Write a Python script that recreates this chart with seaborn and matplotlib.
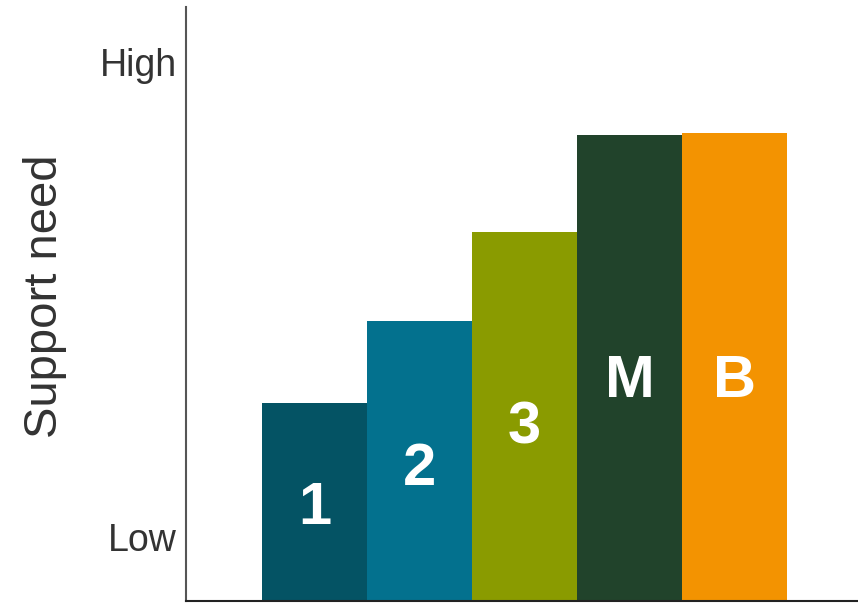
import matplotlib
matplotlib.use("Agg")
import matplotlib.pyplot as plt
import seaborn as sns
import pandas as pd

categories = ["1", "2", "3", "M", "B"]
values = [3.33, 4.71, 6.21, 7.85, 7.88]
colors = ["#045364", "#03718E", "#8A9B00", "#21432B", "#F39301"]
tick_values = [1.08, 9.08]
tick_labels = ["Low", "High"]
ylabel = "Support need"

sns.set_theme(style="white")
plt.rcParams['font.family'] = ['Liberation Sans', 'DejaVu Sans']

df = pd.DataFrame({"cat": categories, "val": values})

fig = plt.figure(figsize=(8.58, 6.03), dpi=100)
ax = fig.add_axes([186/858, 2/603, 1 - 186/858, 594/603])
sns.barplot(data=df, x="cat", y="val", hue="cat", palette=colors, order=categories,
            width=1.0, saturation=1, legend=False, ax=ax, linewidth=0)

for i, (c, v) in enumerate(zip(categories, values)):
    ax.text(i, v * 0.47, c, color="white", fontsize=43, fontweight="bold",
            ha="center", va="center")

ax.set_xlim(-1.224, 5.176)
ax.set_ylim(0, 10)
ax.set_xticks([])
ax.set_yticks(tick_values)
ax.set_yticklabels(tick_labels, fontsize=27, color="#333333")
ax.tick_params(axis="y", length=0, pad=6.5)
ax.set_xlabel("")
ax.set_ylabel(ylabel, fontsize=34, color="#333333", labelpad=24)
ax.yaxis.label.set_y(0.513)

for s in ["top", "right"]:
    ax.spines[s].set_visible(False)
ax.spines["left"].set_color("#555555")
ax.spines["left"].set_linewidth(1.5)
ax.spines["bottom"].set_color("#222222")
ax.spines["bottom"].set_linewidth(1.5)

fig.savefig("out.png", dpi=100)
